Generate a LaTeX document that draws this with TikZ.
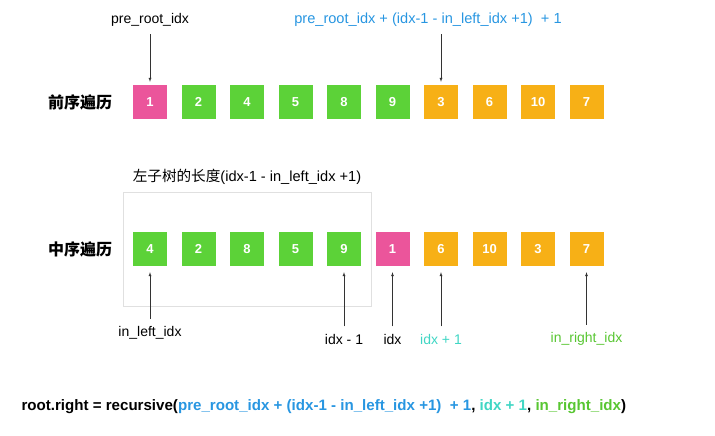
\documentclass[tikz,border=0pt]{standalone}
\usepackage{fontspec}
\setmainfont{Liberation Sans}
\newfontfamily\cjk{Noto Sans CJK SC}
\usetikzlibrary{positioning,fit}

\definecolor{rootpink}{RGB}{235,85,155}
\definecolor{leftgreen}{RGB}{92,210,56}
\definecolor{rightorange}{RGB}{247,176,22}
\definecolor{preblue}{RGB}{40,150,225}
\definecolor{idxcyan}{RGB}{64,214,196}
\definecolor{rightgreen}{RGB}{88,198,50}

\begin{document}
\begin{tikzpicture}[x=1pt,y=-1pt,
        cell/.style={minimum size=34pt,inner sep=0pt,text=white,font=\bfseries\fontsize{13}{13}\selectfont},
        lbl/.style={font=\fontsize{14}{16}\selectfont},
        rowname/.style={font=\cjk\bfseries\fontsize{16}{16}\selectfont},
        pointer/.style={-latex,thin,black!80}]
        \useasboundingbox (0,0) rectangle (715,436);

        % preorder row
        \node[rowname] (pretitle) at (80,102){前序遍历};
        \foreach \v/\c [count=\i] in {1/rootpink,2/leftgreen,4/leftgreen,5/leftgreen,8/leftgreen,9/leftgreen,3/rightorange,6/rightorange,10/rightorange,7/rightorange}
            {
                \node[cell,fill=\c] (p\i) at (101.5+48.5*\i, 102){\v};
            }

        % inorder row
        \node[rowname] (intitle) at (80,249){中序遍历};
        \foreach \v/\c [count=\i] in {4/leftgreen,2/leftgreen,8/leftgreen,5/leftgreen,9/leftgreen,1/rootpink,6/rightorange,10/rightorange,3/rightorange,7/rightorange}
            {
                \node[cell,fill=\c] (m\i) at (101.5+48.5*\i, 249){\v};
            }

        \node[draw=black!12,inner xsep=10pt,inner ysep=40pt,fit=(m1)(m5)] (lefttree){};
        \node[lbl,font=\fontsize{14.6}{16}\selectfont,above=4pt of lefttree]{{\cjk 左子树的长度}(idx-1 - in\_left\_idx +1)};

        % labels above
        \node[lbl] (preroot) at (150,20){pre\_root\_idx};
        \node[lbl,font=\fontsize{14.6}{16}\selectfont,text=preblue] (preright) at (428,20){pre\_root\_idx + (idx-1 - in\_left\_idx +1)~ + 1};
        \draw[pointer,shorten <=4pt,shorten >=3pt] (preroot) -- (p1);
        \draw[pointer,shorten <=4pt,shorten >=3pt] (p7.north |- preright.south) -- (p7);

        % labels below
        \node[lbl] (inleft) at (150,333){in\_left\_idx};
        \node[lbl] (idxm) at (344,339){idx - 1};
        \node[lbl] (idx) at (392.5,339){idx};
        \node[lbl,text=idxcyan] (idxp) at (441,339){idx + 1};
        \node[lbl,text=rightgreen] (inright) at (586.5,339){in\_right\_idx};
        \draw[pointer,shorten <=4pt,shorten >=6pt] (inleft) -- (m1);
        \draw[pointer,shorten <=4pt,shorten >=6pt] (idxm) -- (m5);
        \draw[pointer,shorten <=4pt,shorten >=6pt] (idx) -- (m6);
        \draw[pointer,shorten <=4pt,shorten >=6pt] (idxp) -- (m7);
        \draw[pointer,shorten <=4pt,shorten >=6pt] (inright) -- (m10);

        % formula
        \node[font=\bfseries\fontsize{15.1}{17}\selectfont,anchor=west] (formula) at (18,407){root.right = recursive(\textcolor{preblue}{pre\_root\_idx + (idx-1 - in\_left\_idx +1)~ + 1}, \textcolor{idxcyan}{idx + 1}, \textcolor{rightgreen}{in\_right\_idx})};
    \end{tikzpicture}
\end{document}
